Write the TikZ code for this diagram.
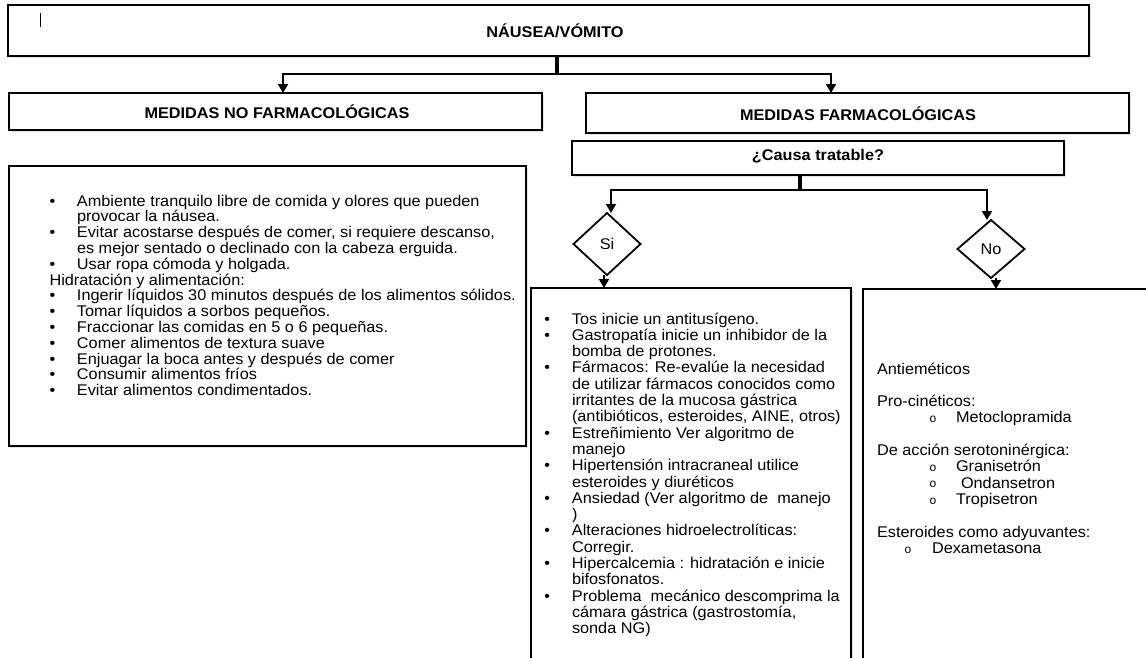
\documentclass[tikz,border=0pt]{standalone}
\usepackage{fontspec}
\setmainfont[FakeStretch=1.05]{Liberation Sans}
\newfontfamily\circfont{Liberation Mono}
\usetikzlibrary{shapes.geometric,arrows.meta,shadows}
\newlength\bulw
\newcommand\BBlock[2]{\vtop{\baselineskip=#1pt\lineskiplimit=-1000pt\lineskip=0pt\parindent=0pt #2}}
\newcommand\BItem[1]{\hbox{\makebox[\bulw][l]{•}#1}}
\newcommand\BCont[1]{\hbox{\hspace*{\bulw}#1}}
\newcommand\BPlain[1]{\hbox{#1}}
\newcommand\BCirc[3]{\hbox{\hspace*{#1}\makebox[#2][l]{\raisebox{0.3pt}{\circfont\fontsize{12}{12}\selectfont o}}#3}}
\begin{document}
\begin{tikzpicture}[x=1pt,y=-1pt,
  box/.style={draw,fill=white,line width=2pt,inner sep=0pt,outer sep=0pt,
    drop shadow={shadow xshift=1.5pt,shadow yshift=-1.5pt,fill=black!22}},
  stemline/.style={line width=4pt},
  arr/.style={line width=1.8pt,-{Triangle[width=10pt,length=9pt]}},
  dia/.style={draw,fill=white,diamond,line width=1.8pt,inner sep=0pt,outer sep=0pt,
    font=\fontsize{15.5}{16.3}\selectfont},
  body/.style={font=\fontsize{15.5}{16.3}\selectfont,inner sep=0pt,outer sep=0pt,anchor=base west},
  ttl/.style={font=\fontsize{15.5}{16.3}\selectfont\bfseries,inner sep=0pt,outer sep=0pt,anchor=base},
]
\useasboundingbox (0,0) rectangle (1146,657);
\clip (0,0) rectangle (1146,657);

% boxes
\node[box,minimum width=1081pt,minimum height=51pt] (topbox) at (548.5,30.5) {};
\node[box,minimum width=533pt,minimum height=37pt] (ltbox) at (275.5,111.5) {};
\node[box,minimum width=543pt,minimum height=40pt] (rtbox) at (857.5,113) {};
\node[box,minimum width=492pt,minimum height=34pt] (causa) at (818,158) {};
\node[box,minimum width=517pt,minimum height=280pt] (lt) at (267.5,306) {};
\node[box,minimum width=320pt,minimum height=382pt] (mid) at (691,479) {};
\node[box,minimum width=297pt,minimum height=381pt] (rt) at (1011.5,479.5) {};
\node[dia,minimum width=67pt,minimum height=62pt] (si) at (607,244) {Si};
\node[dia,minimum width=67pt,minimum height=58pt] (no) at (991,249) {No};

% cursor mark
\draw[line width=0.8pt] (40,13) -- (40,27);

% titles
\node[ttl] (t0) at (555,37.5) {NÁUSEA/VÓMITO};
\node[ttl] (t1) at (277,118.5) {MEDIDAS NO FARMACOLÓGICAS};
\node[ttl] (t2) at (858,120) {MEDIDAS FARMACOLÓGICAS};
\node[ttl] (t3) at (818,160) {¿Causa tratable?};

% connectors
\coordinate (j1) at (557,74);
\coordinate (j2) at (800,190);
\draw[stemline] (topbox.south -| j1) -- (j1);
\draw[arr] (j1) -| ([xshift=7.5pt]ltbox.north);
\draw[arr] (j1) -| ([xshift=-26.5pt]rtbox.north);
\draw[stemline] (causa.south -| j2) -- (j2);
\draw[arr] (j2) -| ([xshift=4pt]si.north);
\draw[arr] (j2) -| ([xshift=-4pt]no.north);
\draw[arr] ([xshift=-3pt]si.south) -- ([xshift=-3pt]si.south |- mid.north);
\draw[arr] ([xshift=5pt]no.south) -- ([xshift=5pt]no.south |- rt.north);

% left text
\setlength\bulw{27.5pt}
\node[body] (ltxt) at (49.5,206) {\BBlock{15.8}{%
\BItem{Ambiente tranquilo libre de comida y olores que pueden}
\BCont{provocar la náusea.}
\BItem{Evitar acostarse después de comer, si requiere descanso,}
\BCont{es mejor sentado o declinado con la cabeza erguida.}
\BItem{Usar ropa cómoda y holgada.}
\BPlain{Hidratación y alimentación:}
\BItem{Ingerir líquidos 30 minutos después de los alimentos sólidos.}
\BItem{Tomar líquidos a sorbos pequeños.}
\BItem{Fraccionar las comidas en 5 o 6 pequeñas.}
\BItem{Comer alimentos de textura suave}
\BItem{Enjuagar la boca antes y después de comer}
\BItem{Consumir alimentos fríos}
\BItem{Evitar alimentos condimentados.}}};

% middle text
\node[body] (mtxt) at (544.3,324) {\setlength\bulw{27.7pt}\BBlock{16.3}{%
\BItem{Tos inicie un antitusígeno.}
\BItem{Gastropatía inicie un inhibidor de la}
\BCont{bomba de protones.}
\BItem{Fármacos: Re-evalúe la necesidad}
\BCont{de utilizar fármacos conocidos como}
\BCont{irritantes de la mucosa gástrica}
\BCont{(antibióticos, esteroides, AINE, otros)}
\BItem{Estreñimiento Ver algoritmo de}
\BCont{manejo}
\BItem{Hipertensión intracraneal utilice}
\BCont{esteroides y diuréticos}
\BItem{Ansiedad (Ver algoritmo de\ \ manejo}
\BCont{)}
\BItem{Alteraciones hidroelectrolíticas:}
\BCont{Corregir.}
\BItem{Hipercalcemia : hidratación e inicie}
\BCont{bifosfonatos.}
\BItem{Problema\ \ mecánico descomprima la}
\BCont{cámara gástrica (gastrostomía,}
\BCont{sonda NG)}}};

% right text
\node[body] (rtxt) at (877,374) {\BBlock{16.3}{%
\BPlain{Antieméticos}
\BPlain{}
\BPlain{Pro-cinéticos:}
\BCirc{52.4pt}{26.6pt}{Metoclopramida}
\BPlain{}
\BPlain{De acción serotoninérgica:}
\BCirc{52.4pt}{26.6pt}{Granisetrón}
\BCirc{52.4pt}{31.6pt}{Ondansetron}
\BCirc{52.4pt}{26.6pt}{Tropisetron}
\BPlain{}
\BPlain{Esteroides como adyuvantes:}
\BCirc{27.4pt}{27.6pt}{Dexametasona}}};
\end{tikzpicture}
\end{document}
